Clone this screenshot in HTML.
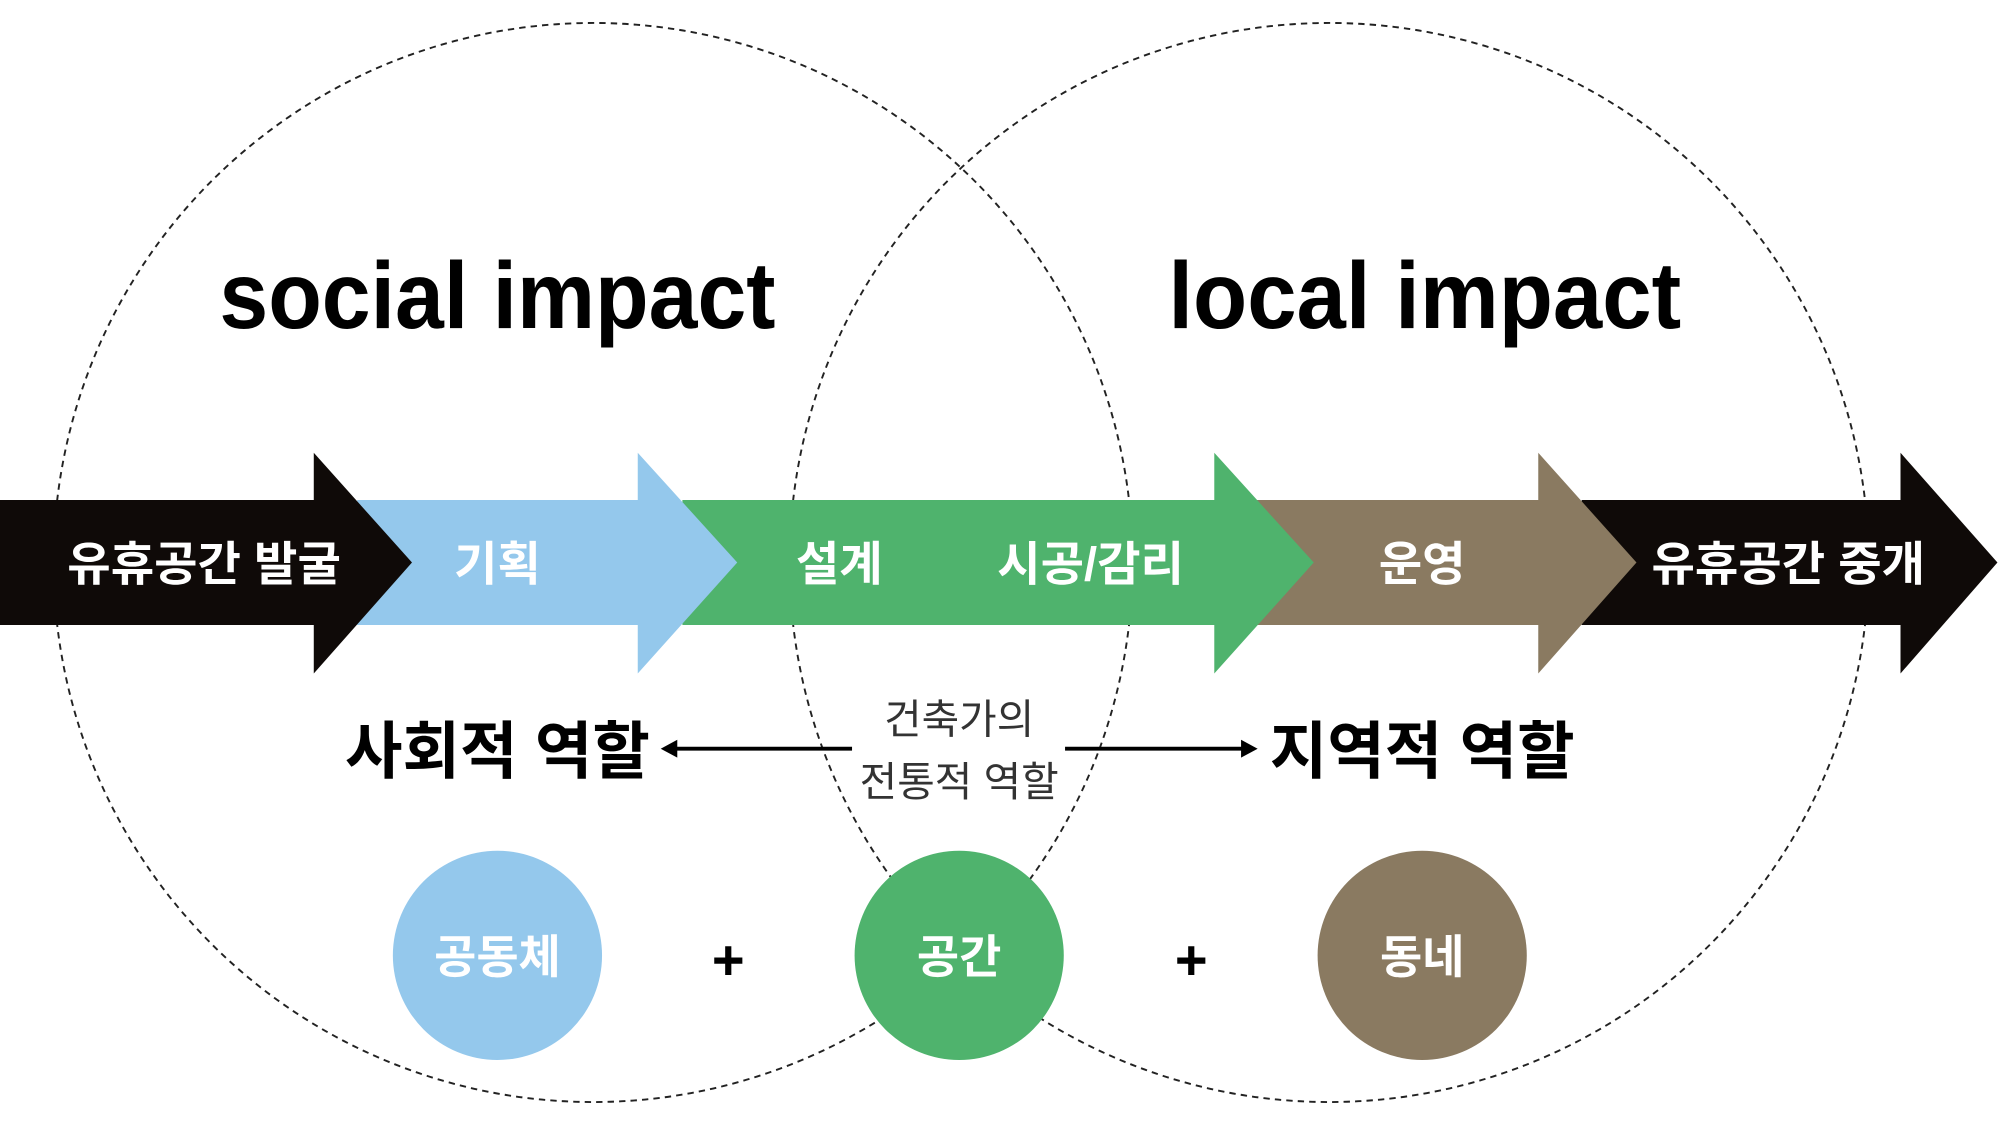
<!DOCTYPE html>
<html><head><meta charset="utf-8"><style>
html,body{margin:0;padding:0;background:#fff;}
svg{display:block;}
text{font-family:"Liberation Sans","Noto Sans CJK KR","NanumGothic",sans-serif;}
</style></head><body>
<svg width="2000" height="1125" viewBox="0 0 1568 882" preserveAspectRatio="none" xmlns="http://www.w3.org/2000/svg">
<rect width="1568" height="882" fill="#fff"/>
<circle cx="465" cy="441" r="423" fill="none" stroke="#222" stroke-width="1.5" stroke-dasharray="5,4"/>
<circle cx="1042" cy="441" r="423" fill="none" stroke="#222" stroke-width="1.5" stroke-dasharray="5,4"/>
<polygon points="1240,392 1490,392 1490,355 1566,441 1490,528 1490,490 1240,490" fill="#0f0a08"/>
<polygon points="985,392 1206,392 1206,355 1283,441 1206,528 1206,490 985,490" fill="#8a7a61"/>
<polygon points="535,392 952,392 952,355 1030,441 952,528 952,490 535,490" fill="#4fb36d"/>
<polygon points="280,392 500,392 500,355 578,441 500,528 500,490 280,490" fill="#94c8ec"/>
<polygon points="0,392 246,392 246,355 323,441 246,528 246,490 0,490" fill="#0f0a08"/>
<g fill="#fff" font-weight="bold" font-size="37" text-anchor="middle">
<text x="160" y="455">유휴공간 발굴</text>
<text x="390" y="455">기획</text>
<text x="658" y="455">설계</text>
<text x="855" y="455">시공/감리</text>
<text x="1115" y="455">운영</text>
<text x="1402" y="455">유휴공간 중개</text>
</g>
<g fill="#000" font-weight="bold" font-size="74">
<text x="172" y="257" textLength="436" lengthAdjust="spacingAndGlyphs">social impact</text>
<text x="916" y="257" textLength="402" lengthAdjust="spacingAndGlyphs">local impact</text>
</g>
<g fill="#000" font-weight="bold" font-size="49" text-anchor="middle">
<text x="390" y="606">사회적 역할</text>
<text x="1115" y="606">지역적 역할</text>
</g>
<g fill="#333" font-size="32" text-anchor="middle">
<text x="752" y="575">건축가의</text>
<text x="752" y="624">전통적 역할</text>
</g>
<line x1="668" y1="587" x2="528" y2="587" stroke="#000" stroke-width="3"/>
<polygon points="518,587 531,580 531,594" fill="#000"/>
<line x1="835" y1="587" x2="975" y2="587" stroke="#000" stroke-width="3"/>
<polygon points="986,587 973,580 973,594" fill="#000"/>
<circle cx="390" cy="749" r="82" fill="#94c8ec"/>
<circle cx="752" cy="749" r="82" fill="#4fb36d"/>
<circle cx="1115" cy="749" r="82" fill="#8a7a61"/>
<g fill="#fff" font-weight="bold" font-size="36" text-anchor="middle">
<text x="390" y="763">공동체</text>
<text x="752" y="763">공간</text>
<text x="1115" y="763">동네</text>
</g>
<g fill="#000" font-weight="bold" font-size="44" text-anchor="middle">
<text x="571" y="768">+</text>
<text x="934" y="768">+</text>
</g>
</svg>
</body></html>
